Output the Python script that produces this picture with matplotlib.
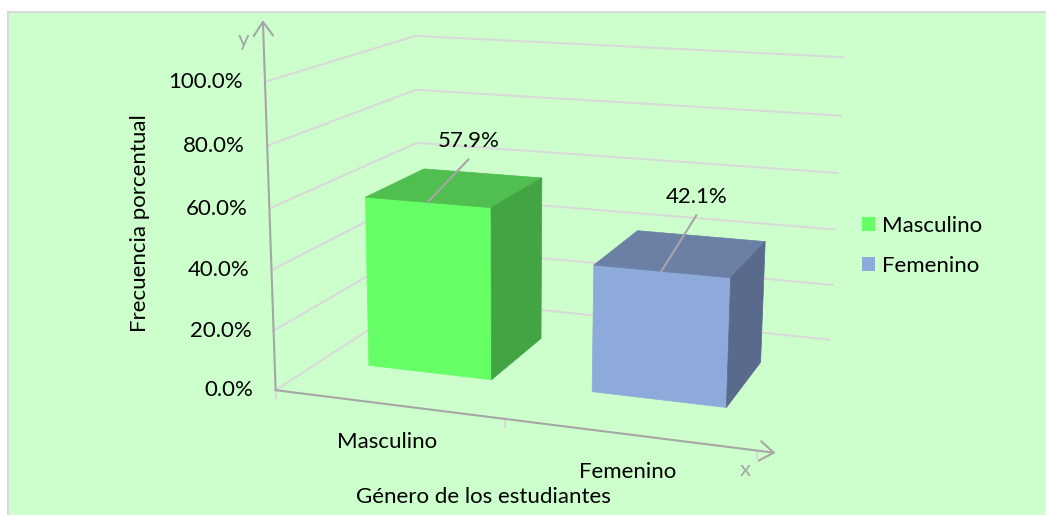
import numpy as np
import matplotlib
matplotlib.use('Agg')
import matplotlib.pyplot as plt
from matplotlib.patches import Polygon, Rectangle, Patch

# datos
categorias = ['Masculino', 'Femenino']
porcentajes = [57.9, 42.1]
ticks_y = [0, 20, 40, 60, 80, 100]
etiquetas_y = ['0.0%', '20.0%', '40.0%', '60.0%', '80.0%', '100.0%']

color_frente = ['#66FF66', '#8EAADB']
color_tapa = ['#50BF50', '#6C80A6']
color_lado = ['#43A443', '#5A6A8C']

# camara 3d (x = categoria, y = fraccion, z = profundidad) -> pixel
# se ajusta a partir de las esquinas del marco del grafico
marco_3d = [(0, 0, 0), (0, .2, 0), (0, .4, 0), (0, .6, 0), (0, .8, 0), (0, 1, 0),
            (0, 0, 1), (0, .6, 1), (0, .8, 1), (0, 1, 1),
            (2, 0, 1), (2, .2, 1), (2, .4, 1), (2, .6, 1), (2, .8, 1), (2, 1, 1),
            (1, 0, 0), (2, 0, 0)]
marco_px = [(277, 388), (275, 330), (272, 270), (269, 208), (266, 146), (263, 83),
            (416, 301), (417, 142), (417, 89), (417, 36),
            (830, 338), (833, 284), (835, 229), (838, 173), (841, 116), (843, 58),
            (505, 419), (757, 453)]


def ajustar_camara(mundo, px):
    px = np.array(px, float)
    m = px.mean(axis=0)
    s = px.std()
    pn = (px - m) / s
    filas = []
    for (X, Y, Z), (u, v) in zip(mundo, pn):
        p = [X, Y, Z, 1.0]
        filas.append(p + [0, 0, 0, 0] + [-u * c for c in p])
        filas.append([0, 0, 0, 0] + p + [-v * c for c in p])
    _, _, vt = np.linalg.svd(np.array(filas))
    P = vt[-1].reshape(3, 4)
    T = np.array([[s, 0, m[0]], [0, s, m[1]], [0, 0, 1]])
    return T @ P


P = ajustar_camara(marco_3d, marco_px)


def proy(x, y, z):
    h = P @ np.array([x, y, z, 1.0])
    return h[0] / h[2], h[1] / h[2]


ancho = 0.56
fondo = 0.42
gris_eje = '#A6A6A6'
gris_rejilla = '#D9D9D9'

plt.rcParams['font.family'] = 'Lato'
fs = 16

fig = plt.figure(figsize=(10.46, 5.15), dpi=100)
ax = fig.add_axes([0, 0, 1, 1])
ax.set_xlim(0, 1046)
ax.set_ylim(515, 0)
ax.axis('off')
ax.add_patch(Rectangle((8, 12), 1100, 600, facecolor='#CCFFCC',
                       edgecolor=gris_rejilla, lw=1.5, zorder=0))

# rejilla en pared izquierda y pared del fondo
for t, et in zip(ticks_y, etiquetas_y):
    f = t / 100
    pts = [proy(0, f, 0), proy(0, f, 1), proy(2, f, 1)]
    ax.plot([p[0] for p in pts], [p[1] for p in pts], color=gris_rejilla, lw=1.5, zorder=1)
    x0, y0 = proy(0, f, 0)
    ax.annotate(et, (x0, y0), xytext=(-22, 0), textcoords='offset pixels',
                ha='right', va='center', fontsize=fs)

# ejes con flecha
o = proy(0, 0, 0)
estilo = dict(arrowstyle='->,head_length=0.5,head_width=0.35', color=gris_eje,
              lw=1.5, mutation_scale=20, shrinkA=0, shrinkB=0)
ax.annotate('', xy=proy(0, 1.19, 0), xytext=o, arrowprops=estilo, zorder=2)
ax.annotate('', xy=proy(2.07, 0, 0), xytext=o, arrowprops=estilo, zorder=2)
for k in range(len(categorias) + 1):
    xt, yt = proy(k, 0, 0)
    ax.plot([xt, xt], [yt, yt + 8], color=gris_rejilla, lw=1.5, zorder=1)
xa, ya = proy(0, 1.19, 0)
ax.text(xa - 19, ya + 20, 'y', color=gris_eje, fontsize=fs, ha='center', va='center')
xb, yb = proy(2.07, 0, 0)
ax.text(xb - 30, yb + 17, 'x', color=gris_eje, fontsize=fs, ha='center', va='center')

# barras
desplaz_guia = [(41, -43), (35, -56)]
desplaz_texto = [(41, -61), (35, -74)]
for i, (cat, val) in enumerate(zip(categorias, porcentajes)):
    y = val / 100
    x0, x1 = i + 0.5 - ancho / 2, i + 0.5 + ancho / 2
    z0, z1 = 0.5 - fondo / 2, 0.5 + fondo / 2
    caras = [
        ([(x0, 0, z0), (x1, 0, z0), (x1, y, z0), (x0, y, z0)], color_frente[i]),
        ([(x0, y, z0), (x1, y, z0), (x1, y, z1), (x0, y, z1)], color_tapa[i]),
        ([(x1, 0, z0), (x1, 0, z1), (x1, y, z1), (x1, y, z0)], color_lado[i]),
    ]
    for vert, c in caras:
        ax.add_patch(Polygon([proy(*v) for v in vert], closed=True, facecolor=c,
                             edgecolor=c, lw=0.5, zorder=3))
    ex, ey = proy(i + 0.5, y, z0)
    gx, gy = desplaz_guia[i]
    ax.plot([ex, ex + gx], [ey, ey + gy], color=gris_eje, lw=1.5, zorder=4)
    tx, ty = desplaz_texto[i]
    ax.text(ex + tx, ey + ty, f'{val:.1f}%', ha='center', va='center', fontsize=fs, zorder=5)
    # etiqueta de categoria
    cx, cy = proy(i + 0.5, 0, 0)
    ax.text(cx, cy + 38, cat, ha='center', va='center', fontsize=fs)

ax.text(140, 223, 'Frecuencia porcentual', rotation=90, ha='center', va='center', fontsize=fs)
ax.text(483, 497, 'Género de los estudiantes', ha='center', va='center', fontsize=fs)

manejadores = [Patch(facecolor=c, edgecolor='none') for c in color_frente]
ax.legend(manejadores, categorias, loc='center left', bbox_to_anchor=(862, 246),
          bbox_transform=ax.transData, frameon=False, fontsize=fs, borderpad=0,
          borderaxespad=0, handlelength=0.6, handleheight=0.6, handletextpad=0.3,
          labelspacing=0.9)

fig.savefig('out.png', dpi=100)
